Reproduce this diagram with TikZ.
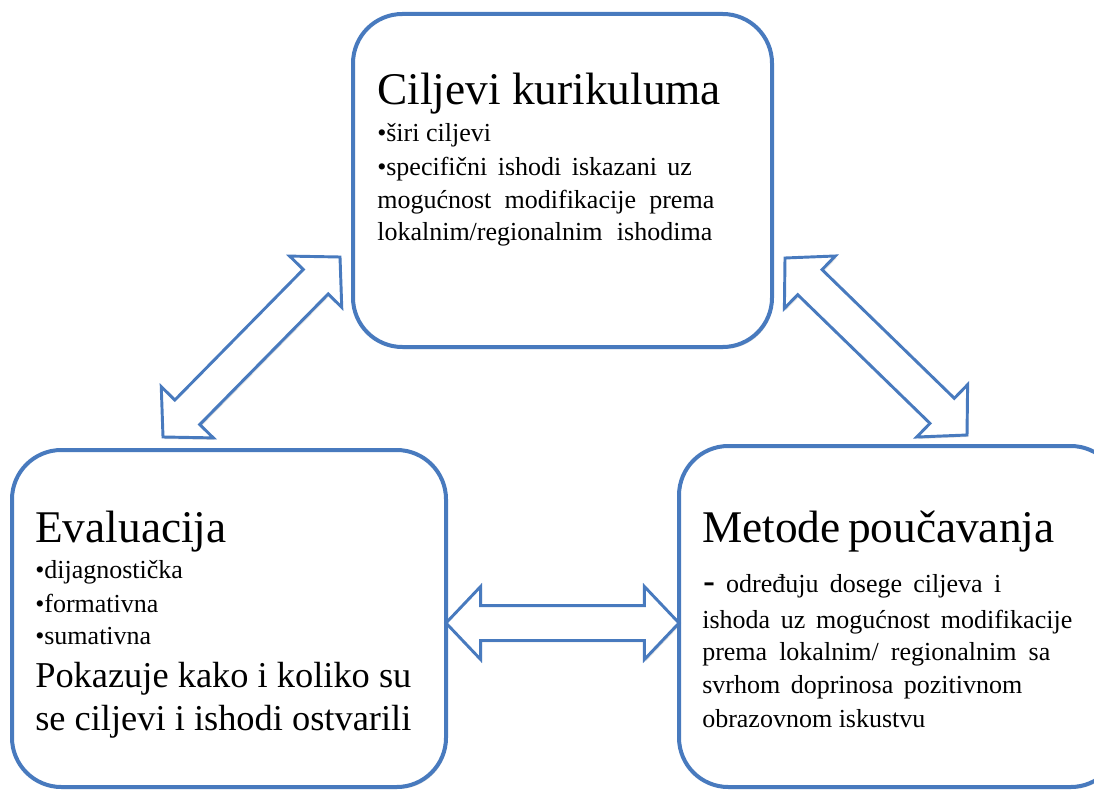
\documentclass[tikz,border=0pt]{standalone}
\usepackage{fontspec}
\setmainfont{Liberation Serif}
\usetikzlibrary{calc,shadows}

\definecolor{boxblue}{RGB}{72,122,190}

\tikzset{
  box/.style={draw=boxblue, line width=3pt, rounded corners=37pt, fill=white,
    drop shadow={shadow xshift=1pt, shadow yshift=-1.5pt, opacity=0.3}},
  head/.style={inner sep=0pt, anchor=base west, font=\fontsize{34}{40}\selectfont},
  body/.style={inner sep=0pt, anchor=base west, font=\fontsize{19.5}{24}\selectfont},
  big/.style={inner sep=0pt, anchor=base west, font=\fontsize{27.3}{32}\selectfont},
  fat/.style={draw=boxblue, line width=2.2pt, fill=white, line join=miter,
    drop shadow={shadow xshift=1pt, shadow yshift=-1.5pt, opacity=0.25}}
}

% block arrow with two heads between two named points
\newcommand{\fatarrow}[2]{%
  \coordinate (#1h) at ($(#1)!26pt!(#2)$);
  \coordinate (#2h) at ($(#2)!26pt!(#1)$);
  \path[fat] (#1) -- ($(#1h)!27.4pt!90:(#2)$) -- ($(#1h)!13.1pt!90:(#2)$)
    -- ($(#2h)!13.1pt!-90:(#1)$) -- ($(#2h)!27.4pt!-90:(#1)$) -- (#2)
    -- ($(#2h)!27.4pt!90:(#1)$) -- ($(#2h)!13.1pt!90:(#1)$)
    -- ($(#1h)!13.1pt!-90:(#2)$) -- ($(#1h)!27.4pt!-90:(#2)$) -- cycle;}

\begin{document}
\begin{tikzpicture}[x=0.75pt, y=-0.75pt]
\path[use as bounding box] (0,0) rectangle (1094,791);
\clip (0,0) rectangle (1094,791);

\node[box, minimum width=314.25pt, minimum height=249.75pt] (cilj) at (562.5,180.5) {};
\node[box, minimum width=325.5pt, minimum height=252.75pt] (eval) at (229,618.5) {};
\node[box, minimum width=330.75pt, minimum height=255.75pt] (metode) at (899.5,616.5) {};

% arrows
\coordinate (a1) at (163,437);
\coordinate (a2) at (340,257);
\coordinate (b1) at (785,258);
\coordinate (b2) at (967,435);
\coordinate (c1) at (446,623);
\coordinate (c2) at (679,623);
\fatarrow{a1}{a2}
\fatarrow{b1}{b2}
\fatarrow{c1}{c2}

\node[head] (ciljT) at (377,105) {Ciljevi kurikuluma};
\node[body] (cilj1) at (377,142) {•širi ciljevi};
\node[body] (cilj2) at (377,176) {\makebox[236pt][s]{•specifični ishodi iskazani uz}};
\node[body] (cilj3) at (377,209) {\makebox[252.75pt][s]{mogućnost modifikacije prema}};
\node[body] (cilj4) at (377,241) {\makebox[251.25pt][s]{lokalnim/regionalnim ishodima}};

\node[head] (evalT) at (35,542) {Evaluacija};
\node[body] (eval1) at (35,578) {•dijagnostička};
\node[body] (eval2) at (35,612) {•formativna};
\node[body] (eval3) at (35,644) {•sumativna};
\node[big] (eval4) at (35,687) {Pokazuje kako i koliko su};
\node[big] (eval5) at (35,730) {se ciljevi i ishodi ostvarili};

\node[head] (metodeT) at (702,542) {Metode\hspace{-3pt} poučavanja};
\node[body] (metode1) at (703,592) {\makebox[223.5pt][s]{{\fontsize{26}{26}\selectfont\textbf{-}} određuju dosege ciljeva i}};
\node[body] (metode2) at (702,628) {\makebox[277.5pt][s]{ishoda uz mogućnost modifikacije}};
\node[body] (metode3) at (702,660) {\makebox[261pt][s]{prema lokalnim/ regionalnim sa}};
\node[body] (metode4) at (702,693) {\makebox[240pt][s]{svrhom doprinosa pozitivnom}};
\node[body] (metode5) at (702,727) {obrazovnom iskustvu};
\end{tikzpicture}
\end{document}
